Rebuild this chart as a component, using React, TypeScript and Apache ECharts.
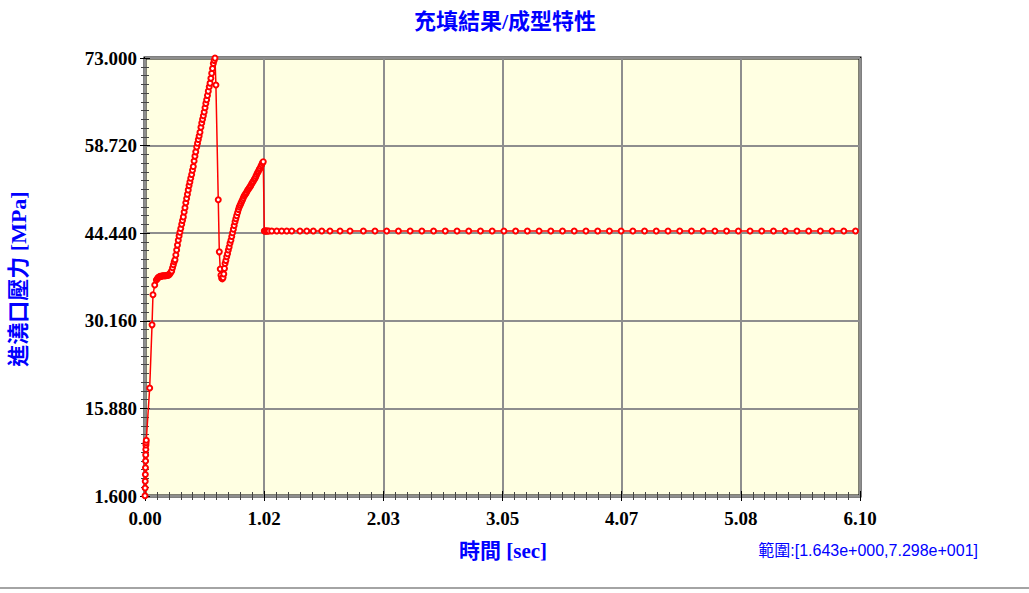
import { useEffect, useRef } from "react";
import * as echarts from "echarts";

// Texts
const TITLE = "充填結果/成型特性";
const X_NAME = "時間 [sec]";
const Y_NAME = "進澆口壓力 [MPa]";
const RANGE_NOTE = "範圍:[1.643e+000,7.298e+001]";

// Axis ranges
const X_MIN = 0;
const X_MAX = 6.1;
const X_STEP = 6.1 / 6;
const Y_MIN = 1.6;
const Y_MAX = 73.0;
const Y_STEP = 14.28;

// Filling stage: gate pressure rise up to the peak (s, MPa)
const fillTime = [
  0.0, 0.001, 0.002, 0.003, 0.004, 0.005, 0.006, 0.007, 0.008, 0.009,
  0.011, 0.04, 0.06, 0.068, 0.083, 0.097,
  0.105, 0.112, 0.12, 0.128, 0.136, 0.144, 0.152, 0.16, 0.168, 0.176,
  0.184, 0.192, 0.2, 0.208, 0.215, 0.222,
  0.228, 0.235, 0.242, 0.249, 0.256, 0.263, 0.27, 0.277, 0.284, 0.291,
  0.298, 0.305, 0.313, 0.32, 0.327, 0.334, 0.341, 0.348, 0.355, 0.362,
  0.369, 0.376, 0.383, 0.39, 0.398, 0.405, 0.412, 0.419, 0.426, 0.433,
  0.441, 0.448, 0.455, 0.462, 0.469, 0.477, 0.484, 0.491, 0.498, 0.505,
  0.512, 0.519, 0.526, 0.533, 0.54, 0.548, 0.555, 0.562, 0.569, 0.576,
  0.583, 0.59, 0.597,
];
const fillPressure = [
  1.64, 2.9, 4.0, 5.1, 6.2, 7.3, 8.3, 9.2, 9.9, 10.3,
  10.7, 19.2, 29.5, 34.4, 36.0, 36.8,
  37.0, 37.2, 37.3, 37.4, 37.4, 37.45, 37.5, 37.5, 37.5, 37.5,
  37.55, 37.6, 37.6, 37.7, 37.9, 38.1,
  38.3, 38.8, 39.3, 39.8, 40.1, 40.9, 41.7, 42.5, 43.3, 44.0,
  44.6, 45.2, 45.9, 46.5, 47.1, 47.9, 48.6, 49.4, 50.1, 50.8,
  51.5, 52.2, 52.8, 53.4, 54.0, 54.7, 55.3, 56.2, 57.0, 57.7,
  58.5, 59.1, 59.7, 60.3, 60.9, 61.7, 62.4, 63.0, 63.6, 64.2,
  64.9, 65.6, 66.2, 66.9, 67.6, 68.3, 68.9, 69.7, 70.5, 71.3,
  72.1, 72.6, 72.98,
];

// Switch-over drop and second rise (s, MPa)
const switchTime = [
  0.605, 0.625, 0.634, 0.642, 0.648, 0.654, 0.66, 0.666, 0.672, 0.678,
  0.683, 0.69, 0.697, 0.704, 0.711, 0.718, 0.725, 0.733, 0.74, 0.747,
  0.754, 0.761, 0.768, 0.775, 0.782, 0.79, 0.797, 0.804, 0.811, 0.818,
  0.825, 0.832, 0.839, 0.846, 0.853, 0.86, 0.867, 0.874, 0.882, 0.889,
  0.896, 0.903, 0.91, 0.917, 0.924, 0.932, 0.939, 0.946, 0.953, 0.96,
  0.967, 0.974, 0.981, 0.988, 0.995, 1.002, 1.009,
];
const switchPressure = [
  68.6, 49.9, 41.4, 38.6, 37.6, 37.1, 37.0, 37.2, 37.8, 38.7,
  39.5, 40.0, 40.6, 41.1, 41.7, 42.2, 42.8, 43.3, 43.9, 44.5,
  45.1, 45.7, 46.3, 46.8, 47.3, 47.8, 48.3, 48.7, 49.0, 49.3,
  49.6, 49.9, 50.2, 50.5, 50.7, 50.9, 51.1, 51.4, 51.6, 51.8,
  52.0, 52.2, 52.5, 52.7, 52.9, 53.2, 53.4, 53.7, 54.0, 54.3,
  54.5, 54.8, 55.0, 55.3, 55.6, 55.9, 56.1,
];

// Holding stage (s, MPa)
const holdTime = [
  1.018, 1.023, 1.028, 1.034, 1.04, 1.048, 1.058, 1.081, 1.124, 1.166,
  1.209, 1.252, 1.322, 1.38, 1.436, 1.508, 1.578, 1.664, 1.749, 1.863,
  1.962, 2.062, 2.162, 2.262, 2.362, 2.462, 2.562, 2.662, 2.762, 2.862,
  2.962, 3.062, 3.162, 3.262, 3.362, 3.462, 3.562, 3.662, 3.762, 3.862,
  3.962, 4.062, 4.162, 4.262, 4.362, 4.462, 4.562, 4.662, 4.762, 4.862,
  4.962, 5.062, 5.162, 5.262, 5.362, 5.462, 5.562, 5.662, 5.762, 5.862,
  5.962, 6.062,
];
const holdPressure = [
  44.8, 44.8, 44.8, 44.8, 44.8, 44.8, 44.8, 44.8, 44.8, 44.8,
  44.8, 44.8, 44.8, 44.8, 44.8, 44.8, 44.8, 44.8, 44.8, 44.8,
  44.8, 44.8, 44.8, 44.8, 44.8, 44.8, 44.8, 44.8, 44.8, 44.8,
  44.8, 44.8, 44.8, 44.8, 44.8, 44.8, 44.8, 44.8, 44.8, 44.8,
  44.8, 44.8, 44.8, 44.8, 44.8, 44.8, 44.8, 44.8, 44.8, 44.8,
  44.8, 44.8, 44.8, 44.8, 44.8, 44.8, 44.8, 44.8, 44.8, 44.8,
  44.8, 44.8,
];

const LABEL_FONT = "'Liberation Serif', 'Times New Roman', serif";
const CJK_FONT = "'Liberation Serif', 'Noto Sans CJK TC', serif";

export default function App() {
  const ref = useRef<HTMLDivElement>(null);

  useEffect(() => {
    if (!ref.current) return;
    const chart = echarts.init(ref.current, undefined, { renderer: "svg" });

    const times = [...fillTime, ...switchTime, ...holdTime];
    const pressures = [...fillPressure, ...switchPressure, ...holdPressure];
    // the pressure axis is counted from its lower bound so that ticks land on 1.600, 15.880, ...
    const data = times.map((t, i) => [t, pressures[i] - Y_MIN]);

    const tickLabel = {
      fontFamily: LABEL_FONT,
      fontWeight: "bold" as const,
      fontSize: 19,
      color: "#000",
    };
    const gridLine = { show: true, lineStyle: { color: "#8e8e8e", width: 2 } };
    const majorTick = { show: true, inside: true, length: 5, lineStyle: { color: "#000" } };
    const minorTick = { show: true, splitNumber: 10, length: 4, lineStyle: { color: "#444" } };

    chart.setOption({
      animation: false,
      backgroundColor: "#ffffff",
      grid: {
        left: 145,
        top: 58,
        width: 715,
        height: 438,
        show: true,
        backgroundColor: "#ffffe2",
        borderColor: "#000",
        borderWidth: 3,
      },
      xAxis: [
        {
          type: "value",
          position: "bottom",
          min: X_MIN,
          max: X_MAX,
          interval: X_STEP,
          axisLine: { show: false },
          axisTick: majorTick,
          minorTick,
          splitLine: gridLine,
          axisLabel: {
            ...tickLabel,
            margin: 13,
            showMinLabel: true,
            showMaxLabel: true,
            formatter: (v: number) => v.toFixed(2),
          },
        },
        {
          type: "value",
          position: "top",
          min: X_MIN,
          max: X_MAX,
          interval: X_STEP,
          axisLine: { show: false },
          axisTick: majorTick,
          minorTick,
          splitLine: { show: false },
          axisLabel: { show: false },
        },
      ],
      yAxis: [
        {
          type: "value",
          position: "left",
          min: 0,
          max: Y_MAX - Y_MIN,
          interval: Y_STEP,
          axisLine: { show: false },
          axisTick: majorTick,
          minorTick,
          splitLine: gridLine,
          axisLabel: {
            ...tickLabel,
            margin: 8,
            showMinLabel: true,
            showMaxLabel: true,
            formatter: (v: number) => (v + Y_MIN).toFixed(3),
          },
        },
        {
          type: "value",
          position: "right",
          min: 0,
          max: Y_MAX - Y_MIN,
          interval: Y_STEP,
          axisLine: { show: false },
          axisTick: majorTick,
          minorTick,
          splitLine: { show: false },
          axisLabel: { show: false },
        },
      ],
      series: [
        {
          type: "line",
          xAxisIndex: 0,
          yAxisIndex: 0,
          data,
          symbol: "emptyCircle",
          symbolSize: 5,
          showAllSymbol: true,
          lineStyle: { color: "#ff0000", width: 1.5 },
          itemStyle: { color: "#ff0000", borderWidth: 2 },
        },
      ],
      graphic: [
        {
          type: "text",
          x: 505,
          y: 21,
          style: {
            text: TITLE,
            fill: "#0000ff",
            font: `bold 22px ${CJK_FONT}`,
            align: "center",
            verticalAlign: "middle",
          },
        },
        {
          type: "text",
          x: 18,
          y: 279,
          rotation: Math.PI / 2,
          style: {
            text: Y_NAME,
            fill: "#0000ff",
            font: `bold 22px ${CJK_FONT}`,
            align: "center",
            verticalAlign: "middle",
          },
        },
        {
          type: "text",
          x: 503,
          y: 551,
          style: {
            text: X_NAME,
            fill: "#0000ff",
            font: `bold 21px ${CJK_FONT}`,
            align: "center",
            verticalAlign: "middle",
          },
        },
        {
          type: "text",
          x: 978,
          y: 550,
          style: {
            text: RANGE_NOTE,
            fill: "#0000ff",
            font: "16px 'Liberation Sans Narrow', 'Liberation Sans', 'Noto Sans CJK TC', sans-serif",
            align: "right",
            verticalAlign: "middle",
          },
        },
        {
          type: "line",
          shape: { x1: 0, y1: 588, x2: 1029, y2: 588 },
          style: { stroke: "#a4a4a4", lineWidth: 2 },
        },
      ],
    });

    return () => chart.dispose();
  }, []);

  return (
    <div
      ref={ref}
      style={{ position: "fixed", left: 0, top: 0, width: 1029, height: 593, background: "#fff" }}
    />
  );
}
